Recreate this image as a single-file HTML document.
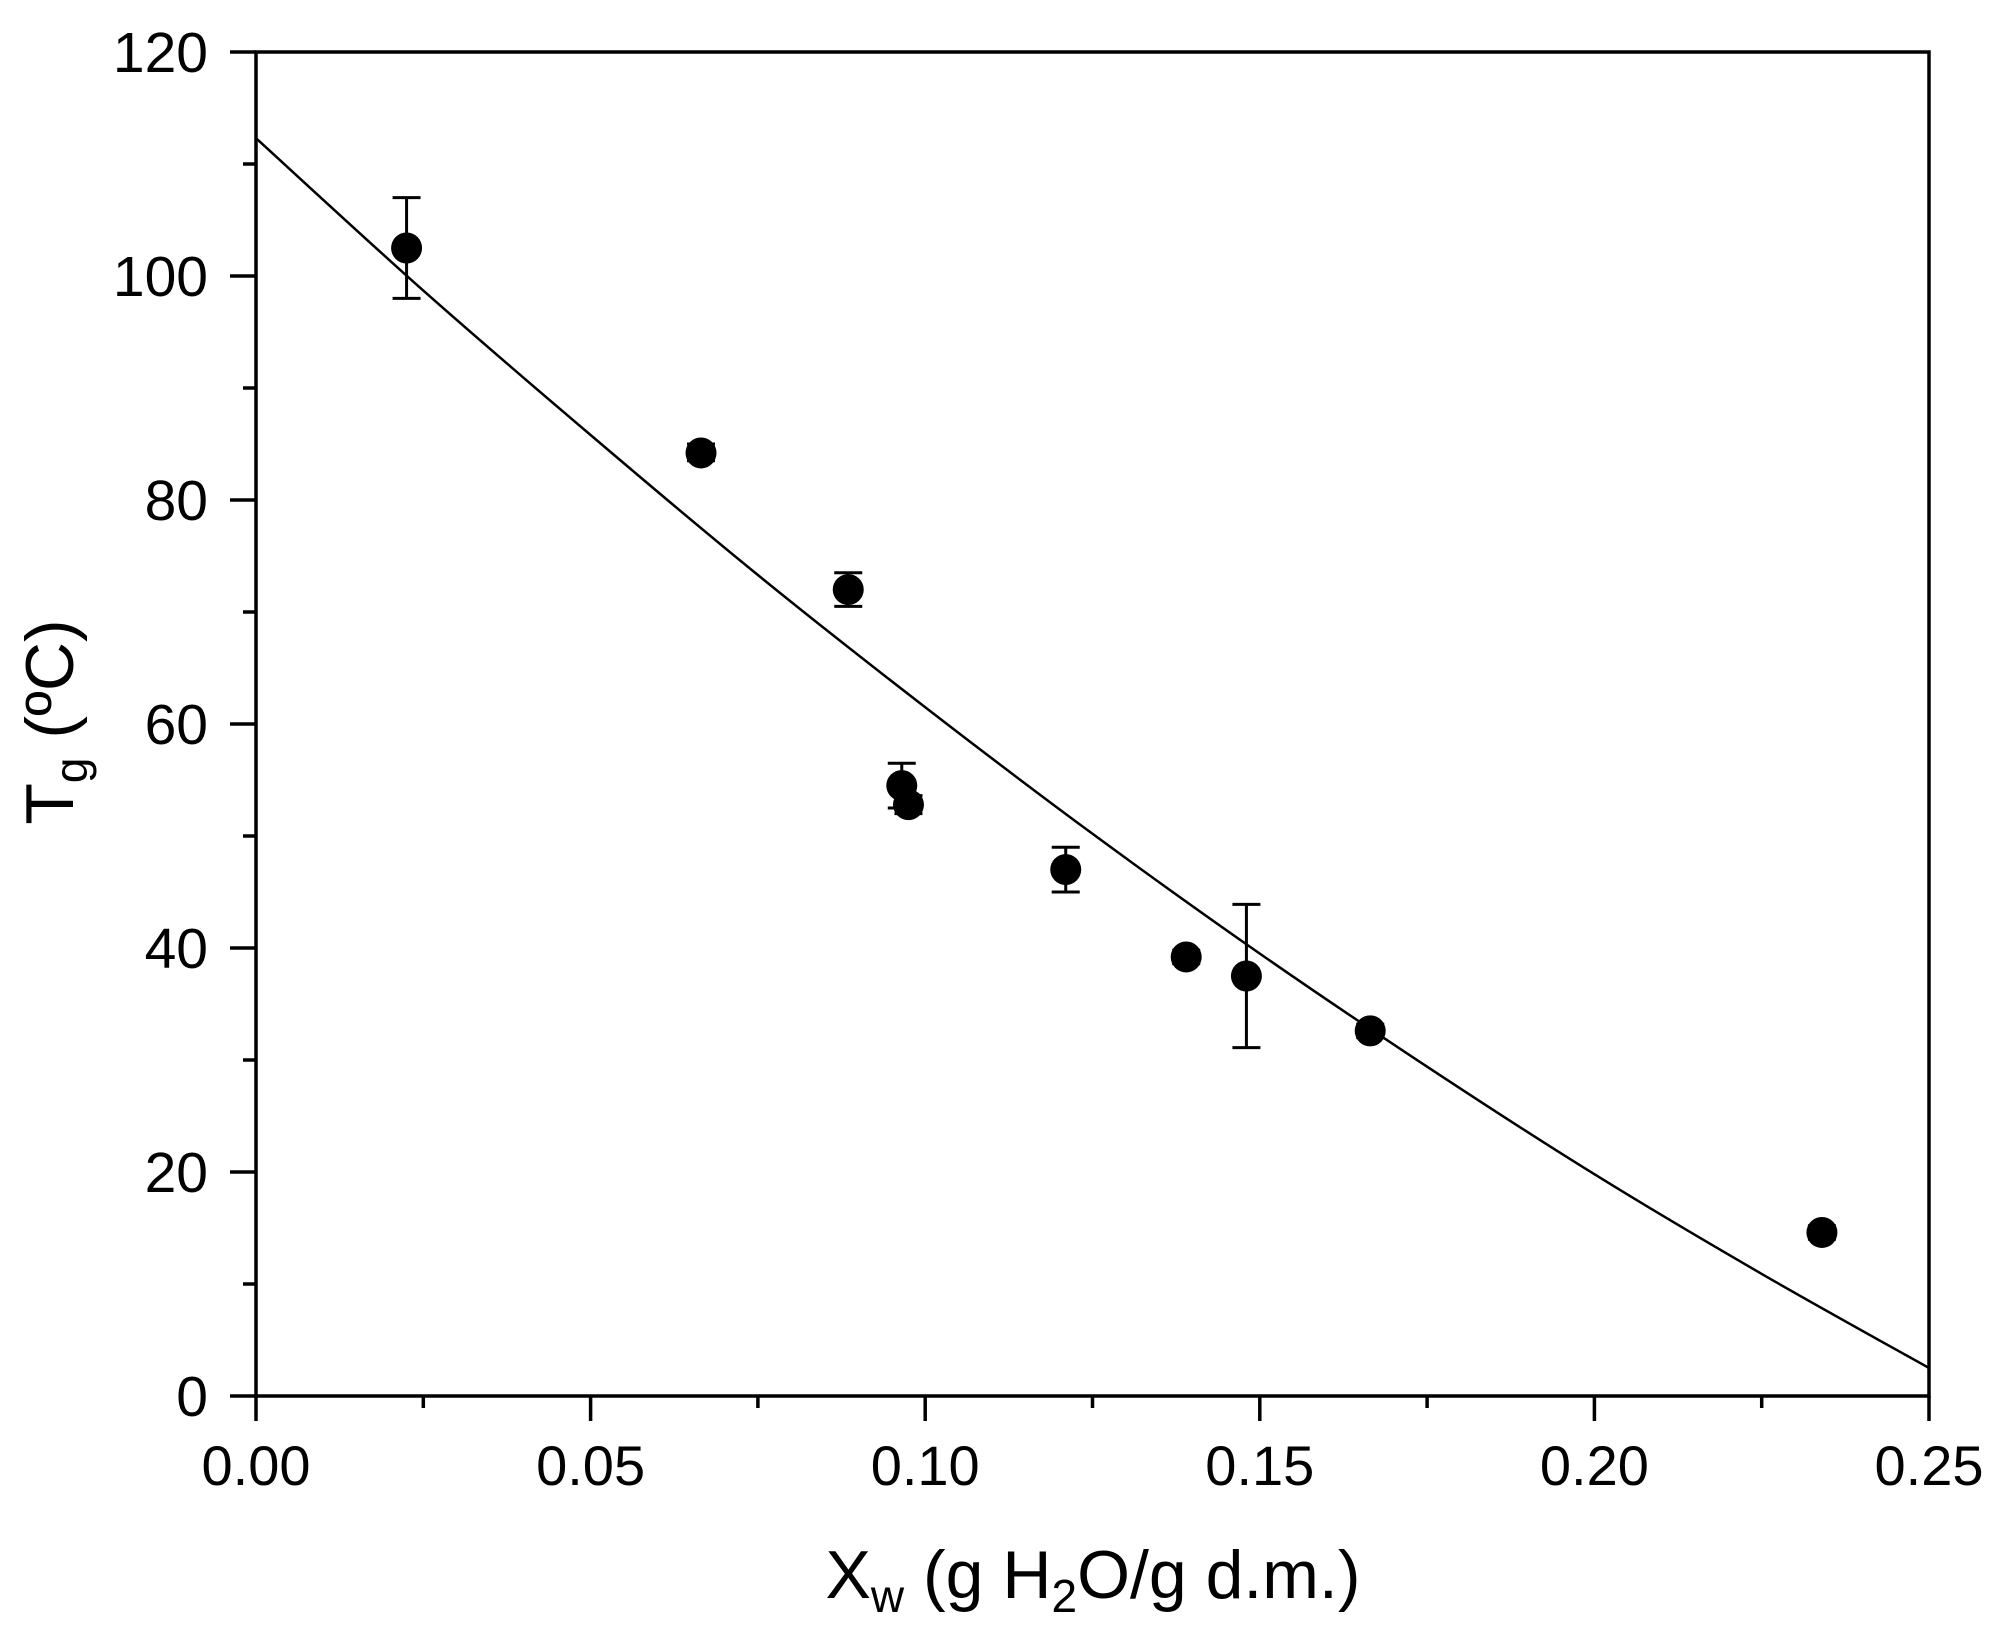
<!DOCTYPE html>
<html><head><meta charset="utf-8"><style>
html,body{margin:0;padding:0;background:#fff;}
svg{display:block;font-family:"Liberation Sans",Arial,sans-serif;}
</style></head><body>
<svg id="chart" width="1993" height="1632" viewBox="0 0 1993 1632" xmlns="http://www.w3.org/2000/svg">
<g id="fit"></g>
<g id="pts"></g>
<g id="axes"></g>
<text x="1093" y="1598" font-size="68" text-anchor="middle">X<tspan font-size="46" dy="14">w</tspan><tspan dy="-14"> (g H</tspan><tspan font-size="46" dy="14">2</tspan><tspan dy="-14">O/g d.m.)</tspan></text>
<text transform="translate(73,722) rotate(-90)" font-size="68" text-anchor="middle">T<tspan font-size="46" dy="14">g</tspan><tspan dy="-14"> (ºC)</tspan></text>
</svg>
<script>
const xTicks=[0,0.05,0.10,0.15,0.20,0.25];
const xTickLabels=["0.00","0.05","0.10","0.15","0.20","0.25"];
const yTicks=[0,20,40,60,80,100,120];
const yTickLabels=["0","20","40","60","80","100","120"];
const ptX=[0.0225,0.0665,0.0885,0.0965,0.0975,0.121,0.139,0.148,0.1665,0.234];
const ptY=[102.5,84.2,72.0,54.5,52.8,47.0,39.2,37.5,32.6,14.6];
const errLo=[98,83.5,70.5,52.5,52.0,45.0,38.6,31.1,32.0,14.0];
const errHi=[107,85.0,73.5,56.5,53.6,49.0,39.8,43.9,33.2,15.2];
const fitX=[0,0.025,0.05,0.075,0.1,0.125,0.15,0.175,0.2,0.225,0.25];
const fitY=[112.3,98.7,85.8,73.3,61.5,50.2,39.5,29.4,19.8,10.9,2.5];

const X0=256,X1=1929,Y0=1396,Y1=52;
const sx=v=>X0+(v-0)/(0.25-0)*(X1-X0);
const sy=v=>Y0-(v-0)/(120-0)*(Y0-Y1);
const NS="http://www.w3.org/2000/svg";
function mk(p,tag,at){const e=document.createElementNS(NS,tag);for(const k in at)e.setAttribute(k,at[k]);p.appendChild(e);return e;}
const axes=document.getElementById('axes'),fit=document.getElementById('fit'),pts=document.getElementById('pts');

// fit curve (Catmull-Rom smoothing)
const P=fitX.map((x,i)=>[sx(x),sy(fitY[i])]);
let d='M'+P[0][0].toFixed(1)+','+P[0][1].toFixed(1);
for(let i=0;i<P.length-1;i++){
  const p0=P[Math.max(0,i-1)],p1=P[i],p2=P[i+1],p3=P[Math.min(P.length-1,i+2)];
  const c1=[p1[0]+(p2[0]-p0[0])/6,p1[1]+(p2[1]-p0[1])/6];
  const c2=[p2[0]-(p3[0]-p1[0])/6,p2[1]-(p3[1]-p1[1])/6];
  d+=' C'+c1[0].toFixed(1)+','+c1[1].toFixed(1)+' '+c2[0].toFixed(1)+','+c2[1].toFixed(1)+' '+p2[0].toFixed(1)+','+p2[1].toFixed(1);
}
const fl=mk(fit,'path',{d:d,fill:'none',stroke:'#000','stroke-width':2.5});



// points
ptX.forEach((x,i)=>{
  const g=mk(pts,'g',{});
  
  
  const cx=sx(x),lo=sy(errLo[i]),hi=sy(errHi[i]);
  mk(g,'line',{x1:cx,x2:cx,y1:lo,y2:hi,stroke:'#000','stroke-width':3});
  mk(g,'line',{x1:cx-14,x2:cx+14,y1:lo,y2:lo,stroke:'#000','stroke-width':3});
  mk(g,'line',{x1:cx-14,x2:cx+14,y1:hi,y2:hi,stroke:'#000','stroke-width':3});
  mk(g,'circle',{cx:cx,cy:sy(ptY[i]),r:15.5,fill:'#000'});
});

// frame
const fr=mk(axes,'rect',{x:X0,y:Y1,width:X1-X0,height:Y0-Y1,fill:'none',stroke:'#000','stroke-width':3.5});



// x ticks
xTicks.forEach((v,i)=>{
  const x=sx(v);
  mk(axes,'line',{x1:x,x2:x,y1:Y0,y2:Y0+25,stroke:'#000','stroke-width':3.5});
  const t=mk(axes,'text',{x:x,y:1485,'font-size':56,'text-anchor':'middle'});
  t.textContent=xTickLabels[i];
  
  
  if(i<xTicks.length-1){const m=sx(v+0.025);mk(axes,'line',{x1:m,x2:m,y1:Y0,y2:Y0+12,stroke:'#000','stroke-width':3.5});}
});
// y ticks
yTicks.forEach((v,i)=>{
  const y=sy(v);
  mk(axes,'line',{x1:X0-26,x2:X0,y1:y,y2:y,stroke:'#000','stroke-width':3.5});
  const t=mk(axes,'text',{x:208,y:y+20,'font-size':57,'text-anchor':'end'});
  t.textContent=yTickLabels[i];
  
  
  if(i<yTicks.length-1){const m=sy(v+10);mk(axes,'line',{x1:X0-13,x2:X0,y1:m,y2:m,stroke:'#000','stroke-width':3.5});}
});
</script>
</body></html>
